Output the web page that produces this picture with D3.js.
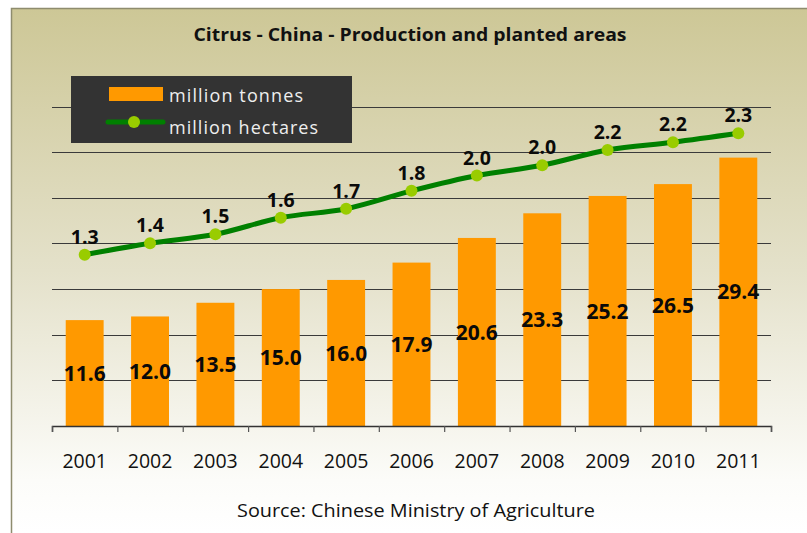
<!DOCTYPE html>
<html>
<head>
<meta charset="utf-8">
<script src="https://cdn.jsdelivr.net/npm/d3@7"></script>
<style>
  html, body { margin: 0; padding: 0; background: #ffffff; }
  svg { display: block; }
</style>
</head>
<body>
<svg id="chart" width="807" height="533"></svg>
<script>
// ---- data ----
const years = ["2001","2002","2003","2004","2005","2006","2007","2008","2009","2010","2011"];
const tonnes = [11.6, 12.0, 13.5, 15.0, 16.0, 17.9, 20.6, 23.3, 25.2, 26.5, 29.4];
const hectares = [1.34, 1.43, 1.50, 1.63, 1.70, 1.84, 1.96, 2.04, 2.16, 2.22, 2.29];
const gridTicks = [0, 5, 10, 15, 20, 25, 30, 35];
const titleText = "Citrus - China - Production and planted areas";
const sourceText = "Source: Chinese Ministry of Agriculture";
const legendLabels = ["million tonnes", "million hectares"];

const svg = d3.select("#chart");
const W = 807, H = 533;
const plot = {left: 52, right: 771, top: 106.5, bottom: 426};

// background gradient
const defs = svg.append("defs");
const grad = defs.append("linearGradient").attr("id", "bg")
  .attr("gradientUnits", "userSpaceOnUse")
  .attr("x1", 0).attr("y1", 8).attr("x2", 0).attr("y2", 533);
grad.append("stop").attr("offset", "0%").attr("stop-color", "#cdc796");
grad.append("stop").attr("offset", "50%").attr("stop-color", "#e4e1ca");
grad.append("stop").attr("offset", "90%").attr("stop-color", "#fcfcf9");
grad.append("stop").attr("offset", "100%").attr("stop-color", "#ffffff");

svg.append("rect").attr("x", 0).attr("y", 0).attr("width", W).attr("height", H).attr("fill", "#ffffff");
svg.append("rect").attr("x", 11.5).attr("y", 8.5).attr("width", 830).attr("height", 560)
  .attr("fill", "url(#bg)").attr("stroke", "#8e8c6e").attr("stroke-width", 1.5);

// scales
const x = d3.scaleBand().domain(years).range([plot.left, plot.right])
  .paddingInner(0.42).paddingOuter(0.21);
const xb = d3.scaleLinear().domain([0, years.length]).range([plot.left, plot.right]);
const y = d3.scaleLinear().domain([0, 35]).range([plot.bottom, plot.top]);
const y2 = d3.scaleLinear().domain([0, 2.5]).range([plot.bottom, plot.top]);

// gridlines
svg.append("g").selectAll("line").data(gridTicks.filter(d => d > 0)).join("line")
  .attr("x1", plot.left).attr("x2", plot.right)
  .attr("y1", d => Math.round(y(d)) + 0.5).attr("y2", d => Math.round(y(d)) + 0.5)
  .attr("stroke", "#3a3a3a").attr("stroke-width", 1.2);

// bars
svg.append("g").selectAll("rect").data(tonnes).join("rect")
  .attr("x", (d, i) => x(years[i]))
  .attr("y", d => y(d))
  .attr("width", x.bandwidth())
  .attr("height", d => y(0) - y(d))
  .attr("fill", "#ff9900");

// x axis: boundary ticks
const axisG = svg.append("g").attr("transform", `translate(0,${plot.bottom})`)
  .call(d3.axisBottom(xb).ticks(years.length).tickSize(6).tickFormat(""));
axisG.select(".domain").attr("stroke", "#333").attr("stroke-width", 1.5);
axisG.selectAll(".tick line").attr("stroke", "#555").attr("stroke-width", 1.2);

// year labels
const labG = svg.append("g").attr("transform", `translate(0,${plot.bottom})`)
  .call(d3.axisBottom(x).tickSize(0));
labG.select(".domain").remove();
labG.selectAll("text")
  .attr("y", 42).attr("dy", 0)
  .attr("font-family", "'Open Sans', sans-serif")
  .attr("font-size", 19.5).attr("fill", "#111");

// bar labels
svg.append("g").selectAll("text").data(tonnes).join("text")
  .attr("x", (d, i) => x(years[i]) + x.bandwidth() / 2)
  .attr("y", d => (y(d) + y(0)) / 2)
  .attr("dy", "0.36em")
  .attr("text-anchor", "middle")
  .attr("font-family", "'Open Sans', sans-serif")
  .attr("font-weight", "bold").attr("font-size", 21).attr("fill", "#0a0a0a")
  .text(d => d3.format(".1f")(d));

// line
const pts = hectares.map((v, i) => ({year: years[i], v}));
const line = d3.line()
  .x(d => x(d.year) + x.bandwidth() / 2)
  .y(d => y2(d.v))
  .curve(d3.curveCatmullRom);
svg.append("path").datum(pts).attr("d", line)
  .attr("fill", "none").attr("stroke", "#008000").attr("stroke-width", 5)
  .attr("stroke-linejoin", "round");
svg.append("g").selectAll("circle").data(pts).join("circle")
  .attr("cx", d => x(d.year) + x.bandwidth() / 2)
  .attr("cy", d => y2(d.v))
  .attr("r", 6).attr("fill", "#99cc00");
svg.append("g").selectAll("text").data(pts).join("text")
  .attr("x", d => x(d.year) + x.bandwidth() / 2)
  .attr("y", d => y2(d.v) - 11)
  .attr("text-anchor", "middle")
  .attr("font-family", "'Open Sans', sans-serif")
  .attr("font-weight", "bold").attr("font-size", 19.5).attr("fill", "#0a0a0a")
  .text(d => d3.format(".1f")(d.v));

// title
svg.append("text").attr("x", 410).attr("y", 41).attr("text-anchor", "middle")
  .attr("font-family", "'Open Sans', sans-serif").attr("font-weight", "bold")
  .attr("font-size", 17).attr("fill", "#111")
  .attr("textLength", 433).attr("lengthAdjust", "spacingAndGlyphs")
  .text(titleText);

// legend
const lg = svg.append("g");
lg.append("rect").attr("x", 71).attr("y", 76).attr("width", 281).attr("height", 67).attr("fill", "#333333");
lg.append("rect").attr("x", 109).attr("y", 87).attr("width", 54).attr("height", 14).attr("fill", "#ff9900");
lg.append("line").attr("x1", 108).attr("x2", 163).attr("y1", 122).attr("y2", 122)
  .attr("stroke", "#008000").attr("stroke-width", 5).attr("stroke-linecap", "round");
lg.append("circle").attr("cx", 134).attr("cy", 122).attr("r", 6).attr("fill", "#99cc00");
lg.append("text").attr("x", 169).attr("y", 102)
  .attr("font-family", "'Open Sans', sans-serif").attr("font-size", 18).attr("fill", "#eeeeee")
  .attr("textLength", 134).attr("lengthAdjust", "spacing")
  .text(legendLabels[0]);
lg.append("text").attr("x", 169).attr("y", 134)
  .attr("font-family", "'Open Sans', sans-serif").attr("font-size", 18).attr("fill", "#eeeeee")
  .attr("textLength", 149).attr("lengthAdjust", "spacing")
  .text(legendLabels[1]);

// source
svg.append("text").attr("x", 416).attr("y", 517).attr("text-anchor", "middle")
  .attr("font-family", "'Open Sans', sans-serif").attr("font-size", 18).attr("fill", "#111")
  .attr("textLength", 358).attr("lengthAdjust", "spacingAndGlyphs")
  .text(sourceText);
</script>
</body>
</html>
